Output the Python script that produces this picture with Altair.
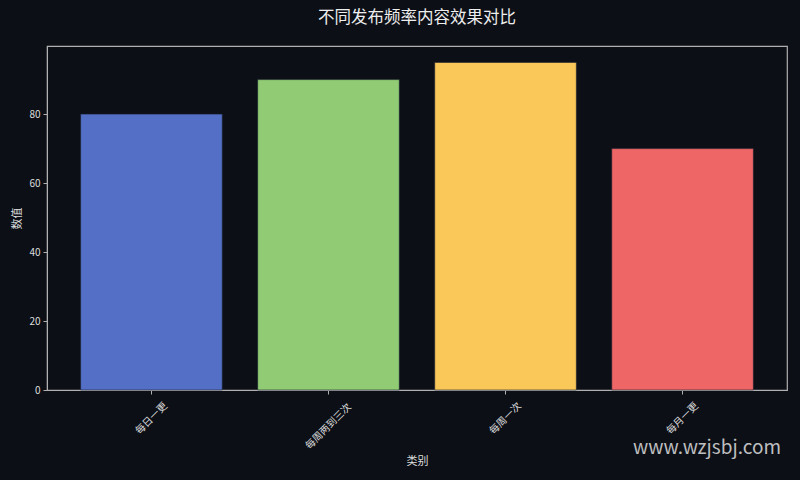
import altair as alt
import pandas as pd
import jinja2

categories = ["每日一更", "每周两到三次", "每周一次", "每月一更"]
values = [80, 90, 95, 70]
colors = ["#5470C6", "#91CC75", "#FAC858", "#EE6666"]
y_ticks = [0, 20, 40, 60, 80]

title_text = "不同发布频率内容效果对比"
x_title = "类别"
y_title = "数值"
watermark = "www.wzjsbj.com"

BG = "#0c0f16"
FONT = "Noto Sans CJK SC"

PAGE_TEMPLATE = jinja2.Template("""<!DOCTYPE html>
<html>
<head>
<meta charset="utf-8">
<style>html, body { margin: 0; padding: 0; background: #0c0f16; overflow: hidden; }</style>
<script type="text/javascript" src="{{ base_url }}/vega@{{ vega_version }}"></script>
<script type="text/javascript" src="{{ base_url }}/vega-lite@{{ vegalite_version }}"></script>
<script type="text/javascript" src="{{ base_url }}/vega-embed@{{ vegaembed_version }}"></script>
</head>
<body>
<div id="{{ output_div }}"></div>
<script type="text/javascript">
var spec = {{ spec }};
var embedOpt = {{ embed_options }};
vegaEmbed("#{{ output_div }}", spec, embedOpt);
</script>
</body>
</html>
""")

df = pd.DataFrame({"category": categories, "value": values})

bars = alt.Chart(df).mark_bar(
    stroke="#1a2030", strokeWidth=1, strokeOpacity=0.6
).encode(
    x=alt.X(
        "category:N",
        sort=categories,
        scale=alt.Scale(paddingInner=0.2, paddingOuter=0.19),
        axis=alt.Axis(
            title=x_title,
            labelAngle=-45,
            labelAlign="center",
            labelBaseline="middle",
            labelPadding={
                "condition": {"test": "length(datum.label) > 4", "value": 32},
                "value": 24,
            },
            titlePadding=5,
        ),
    ),
    y=alt.Y(
        "value:Q",
        scale=alt.Scale(domain=[0, 99.75], nice=False, zero=True),
        axis=alt.Axis(title=y_title, values=y_ticks, titlePadding=6, labelPadding=3),
    ),
    color=alt.Color(
        "category:N",
        sort=categories,
        scale=alt.Scale(domain=categories, range=colors),
        legend=None,
    ),
)

wm_df = pd.DataFrame({"t": [watermark]})
wm = alt.Chart(wm_df).mark_text(
    font=FONT, fontSize=19, color="#dddddd", opacity=0.85, align="center", baseline="middle"
).encode(text="t:N", x=alt.value(660), y=alt.value(402))

chart = (
    alt.layer(bars, wm)
    .properties(
        width=740,
        height=344,
        background=BG,
        padding={"left": 47, "top": 46, "right": 13, "bottom": 90},
        autosize=alt.AutoSizeParams(type="none"),
        title=alt.TitleParams(
            title_text, font=FONT, fontSize=16.5, fontWeight="normal", color="#eeeeee", offset=20
        ),
    )
    .configure_view(stroke="#b0b0b0", strokeWidth=1.2, fill=BG)
    .configure_axis(
        labelFont=FONT,
        titleFont=FONT,
        labelFontSize=10,
        titleFontSize=11,
        titleFontWeight="normal",
        labelColor="#dddddd",
        titleColor="#dddddd",
        domainColor="#b0b0b0",
        tickColor="#b0b0b0",
        tickSize=4,
        grid=False,
    )
)

chart.save(
    "out.html",
    embed_options={"renderer": "svg", "actions": False},
    template=PAGE_TEMPLATE,
)
